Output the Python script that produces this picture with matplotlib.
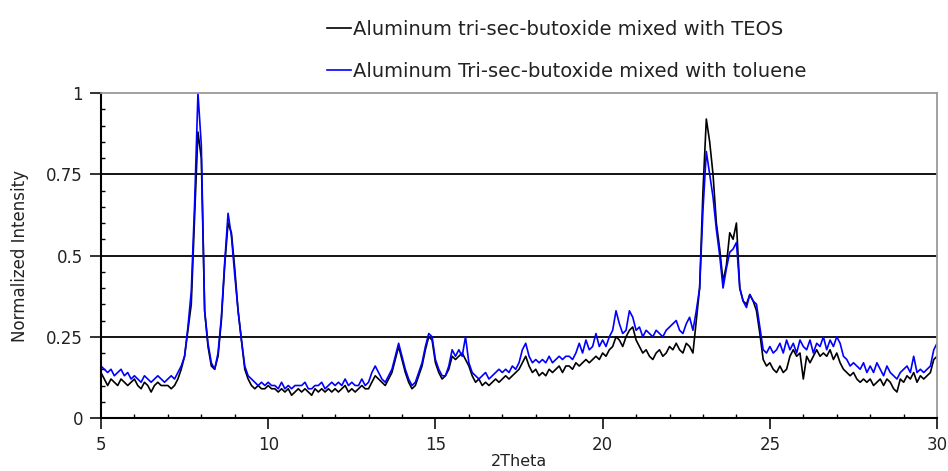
import numpy as np
import matplotlib
matplotlib.use("Agg")
import matplotlib.pyplot as plt
from matplotlib.ticker import MultipleLocator

plt.rcParams['font.family'] = ['DejaVu Sans']

# 2Theta grid, 0.1 step from 5 to 30
two_theta = np.round(np.linspace(5, 30, 251), 1)

# Aluminum tri-sec-butoxide mixed with TEOS (black)
teos = [
    0.14, 0.12, 0.10, 0.12, 0.11, 0.10, 0.12, 0.11, 0.10, 0.11,   # 5
    0.12, 0.10, 0.09, 0.11, 0.10, 0.08, 0.10, 0.11, 0.10, 0.10,   # 6
    0.10, 0.09, 0.10, 0.12, 0.15, 0.19, 0.27, 0.35, 0.62, 0.88,   # 7
    0.80, 0.33, 0.22, 0.16, 0.15, 0.19, 0.30, 0.47, 0.60, 0.57,   # 8
    0.46, 0.33, 0.24, 0.15, 0.12, 0.10, 0.09, 0.10, 0.09, 0.09,   # 9
    0.10, 0.09, 0.09, 0.08, 0.09, 0.08, 0.09, 0.07, 0.08, 0.09,   # 10
    0.08, 0.09, 0.08, 0.07, 0.09, 0.08, 0.09, 0.08, 0.09, 0.08,   # 11
    0.09, 0.08, 0.09, 0.10, 0.08, 0.09, 0.08, 0.09, 0.10, 0.09,   # 12
    0.09, 0.11, 0.13, 0.12, 0.11, 0.10, 0.12, 0.14, 0.18, 0.22,   # 13
    0.18, 0.14, 0.11, 0.09, 0.10, 0.13, 0.16, 0.21, 0.25, 0.24,   # 14
    0.17, 0.14, 0.12, 0.13, 0.15, 0.19, 0.18, 0.19, 0.20, 0.18,   # 15
    0.16, 0.13, 0.11, 0.12, 0.10, 0.11, 0.10, 0.11, 0.12, 0.11,   # 16
    0.12, 0.13, 0.12, 0.13, 0.14, 0.15, 0.17, 0.19, 0.16, 0.14,   # 17
    0.15, 0.13, 0.14, 0.13, 0.15, 0.14, 0.15, 0.16, 0.14, 0.16,   # 18
    0.16, 0.15, 0.17, 0.16, 0.17, 0.18, 0.17, 0.18, 0.19, 0.18,   # 19
    0.20, 0.19, 0.21, 0.22, 0.25, 0.24, 0.22, 0.25, 0.27, 0.28,   # 20
    0.24, 0.22, 0.20, 0.21, 0.19, 0.18, 0.20, 0.21, 0.19, 0.20,   # 21
    0.22, 0.21, 0.23, 0.21, 0.20, 0.23, 0.22, 0.20, 0.30, 0.40,   # 22
    0.70, 0.92, 0.85, 0.75, 0.60, 0.52, 0.42, 0.47, 0.57, 0.55,   # 23
    0.60, 0.40, 0.36, 0.35, 0.38, 0.36, 0.33, 0.26, 0.18, 0.16,   # 24
    0.17, 0.15, 0.14, 0.16, 0.14, 0.15, 0.19, 0.21, 0.19, 0.20,   # 25
    0.12, 0.19, 0.17, 0.19, 0.21, 0.19, 0.20, 0.19, 0.21, 0.18,   # 26
    0.20, 0.17, 0.15, 0.14, 0.13, 0.14, 0.12, 0.11, 0.12, 0.11,   # 27
    0.12, 0.10, 0.11, 0.12, 0.10, 0.12, 0.11, 0.09, 0.08, 0.12,   # 28
    0.11, 0.13, 0.12, 0.14, 0.11, 0.13, 0.12, 0.13, 0.14, 0.18,   # 29
    0.19,
]

# Aluminum Tri-sec-butoxide mixed with toluene (blue)
toluene = [
    0.16, 0.15, 0.14, 0.15, 0.13, 0.14, 0.15, 0.13, 0.14, 0.12,   # 5
    0.13, 0.12, 0.11, 0.13, 0.12, 0.11, 0.12, 0.13, 0.12, 0.11,   # 6
    0.12, 0.13, 0.12, 0.14, 0.16, 0.19, 0.28, 0.39, 0.66, 1.00,   # 7
    0.84, 0.33, 0.23, 0.17, 0.15, 0.20, 0.31, 0.48, 0.63, 0.56,   # 8
    0.44, 0.33, 0.24, 0.16, 0.13, 0.12, 0.11, 0.10, 0.11, 0.10,   # 9
    0.11, 0.10, 0.10, 0.09, 0.11, 0.09, 0.10, 0.09, 0.10, 0.10,   # 10
    0.10, 0.11, 0.09, 0.09, 0.10, 0.10, 0.11, 0.09, 0.10, 0.11,   # 11
    0.10, 0.11, 0.10, 0.12, 0.10, 0.11, 0.10, 0.10, 0.12, 0.10,   # 12
    0.11, 0.14, 0.16, 0.14, 0.12, 0.11, 0.13, 0.15, 0.19, 0.23,   # 13
    0.19, 0.15, 0.12, 0.10, 0.11, 0.14, 0.17, 0.22, 0.26, 0.25,   # 14
    0.18, 0.15, 0.13, 0.13, 0.16, 0.21, 0.19, 0.21, 0.19, 0.25,   # 15
    0.17, 0.14, 0.13, 0.12, 0.13, 0.14, 0.12, 0.13, 0.14, 0.15,   # 16
    0.14, 0.15, 0.14, 0.16, 0.15, 0.17, 0.21, 0.23, 0.19, 0.17,   # 17
    0.18, 0.17, 0.18, 0.17, 0.19, 0.17, 0.18, 0.19, 0.18, 0.19,   # 18
    0.19, 0.18, 0.20, 0.23, 0.20, 0.24, 0.21, 0.22, 0.26, 0.22,   # 19
    0.24, 0.22, 0.25, 0.27, 0.33, 0.29, 0.26, 0.27, 0.33, 0.31,   # 20
    0.27, 0.28, 0.25, 0.27, 0.26, 0.25, 0.27, 0.26, 0.25, 0.27,   # 21
    0.28, 0.29, 0.30, 0.27, 0.26, 0.29, 0.31, 0.27, 0.33, 0.40,   # 22
    0.64, 0.82, 0.75, 0.68, 0.58, 0.50, 0.40, 0.46, 0.51, 0.52,   # 23
    0.54, 0.40, 0.36, 0.34, 0.38, 0.36, 0.35, 0.28, 0.21, 0.20,   # 24
    0.22, 0.20, 0.21, 0.23, 0.20, 0.24, 0.21, 0.23, 0.20, 0.24,   # 25
    0.22, 0.21, 0.24, 0.20, 0.23, 0.22, 0.25, 0.21, 0.24, 0.22,   # 26
    0.25, 0.23, 0.19, 0.18, 0.16, 0.17, 0.16, 0.15, 0.17, 0.14,   # 27
    0.16, 0.14, 0.17, 0.15, 0.13, 0.16, 0.14, 0.13, 0.12, 0.14,   # 28
    0.15, 0.16, 0.14, 0.19, 0.14, 0.15, 0.14, 0.15, 0.16, 0.21,   # 29
    0.23,
]

labels = ['Aluminum tri-sec-butoxide mixed with TEOS',
          'Aluminum Tri-sec-butoxide mixed with toluene']
yticks = [0, 0.25, 0.5, 0.75, 1]
ytick_labels = ['0', '0.25', '0.5', '0.75', '1']

fig = plt.figure(figsize=(9.48, 4.71), dpi=100)
ax = fig.add_axes([0.1065, 0.1125, 0.882, 0.69])

ax.plot(two_theta, teos, color='black', lw=1.2, label=labels[0])
ax.plot(two_theta, toluene, color='#0000ff', lw=1.2, label=labels[1])

for g in yticks[1:-1]:
    ax.axhline(g, color='black', lw=1.3, zorder=0)

ax.set_xlim(5, 30)
ax.set_ylim(0, 1)
ax.xaxis.set_major_locator(MultipleLocator(5))
ax.xaxis.set_minor_locator(MultipleLocator(1))
ax.set_yticks(yticks)
ax.set_yticklabels(ytick_labels)
ax.yaxis.set_minor_locator(MultipleLocator(0.05))

ax.tick_params(which='major', direction='out', length=8, width=1.3, labelsize=12,
               colors='#222222', pad=5)
ax.tick_params(which='minor', direction='in', length=3, width=1.0)

for s in ['left', 'bottom']:
    ax.spines[s].set_linewidth(1.5)
    ax.spines[s].set_color('black')
for s in ['top', 'right']:
    ax.spines[s].set_linewidth(1.3)
    ax.spines[s].set_color('#9a9a9a')

ax.set_xlabel('2Theta', fontsize=11.5, color='#222222', labelpad=0)
ax.set_ylabel('Normalized Intensity', fontsize=12, color='#222222', labelpad=12)

fig.legend(loc='upper left', bbox_to_anchor=(0.327, 0.995), frameon=False,
           fontsize=14, handlelength=1.2, handletextpad=0.1,
           labelspacing=1.2, labelcolor='#222222')

fig.savefig('out.png', dpi=100)
